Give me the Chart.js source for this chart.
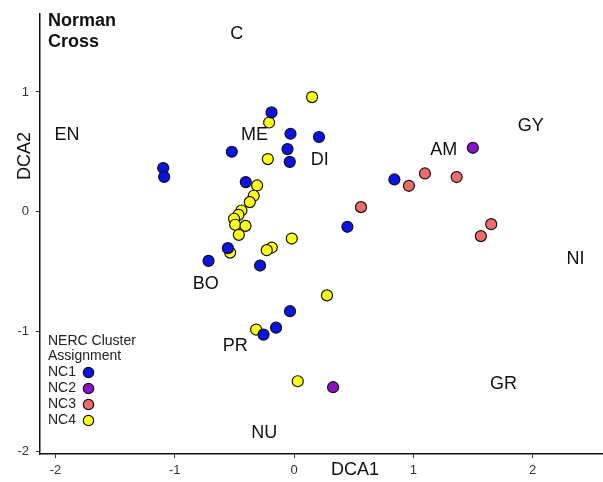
<!DOCTYPE html>
<html>
<head>
<meta charset="utf-8">
<script src="https://cdn.jsdelivr.net/npm/chart.js@4.4.1/dist/chart.umd.min.js"></script>
<style>
html,body{margin:0;padding:0;background:#fff;}
#c{display:block;}
</style>
</head>
<body>
<canvas id="c" width="603" height="482"></canvas>
<script>
// ---- data ----
const nc1X = [-0.189,-0.030,0.209,-0.522,-0.055,-0.036,-1.097,-1.089,-0.405,0.447,0.841,-0.555,-0.717,-0.285,-0.034,-0.151,-0.256];
const nc1Y = [0.829,0.651,0.624,0.501,0.523,0.417,0.365,0.292,0.248,-0.125,0.270,-0.303,-0.409,-0.448,-0.829,-0.966,-1.024];
const nc2X = [1.499,0.327];
const nc2Y = [0.534,-1.463];
const nc3X = [0.561,0.963,1.097,1.363,1.653,1.566];
const nc3Y = [0.039,0.217,0.320,0.290,-0.103,-0.203];
const nc4X = [0.151,-0.209,-0.220,-0.310,-0.338,-0.371,-0.441,-0.466,-0.503,-0.494,-0.407,-0.463,-0.019,-0.187,-0.229,-0.536,0.276,-0.318,0.031];
const nc4Y = [0.957,0.745,0.440,0.220,0.134,0.081,0.011,-0.025,-0.058,-0.108,-0.117,-0.192,-0.223,-0.298,-0.320,-0.340,-0.697,-0.982,-1.413];

const siteLabels = ['C','EN','ME','DI','AM','GY','NI','BO','PR','GR','NU'];
const siteX = [-0.480,-1.904,-0.331,0.215,1.254,1.985,2.359,-0.740,-0.494,1.756,-0.250];
const siteY = [1.486,0.643,0.643,0.428,0.518,0.718,-0.394,-0.601,-1.119,-1.436,-1.847];

const clusterNames = ['NC1','NC2','NC3','NC4'];
const clusterColors = ['#0a14e6','#8a12c6','#f06a6a','#ffff14'];
const xTickStep = 1, yTickStep = 1;
const xMin = -2.13, xMax = 2.59, yMin = -2.02, yMax = 1.65;

const titleLines = ['Norman','Cross'];
const legendTitle = ['NERC Cluster','Assignment'];
const xTitle = 'DCA1', yTitle = 'DCA2';

function pts(xs, ys){ return xs.map((x,i)=>({x:x,y:ys[i]})); }
const FONT = '"Liberation Sans", Arial, Helvetica, sans-serif';

const overlay = {
  id:'overlay',
  afterDraw(chart){
    const ctx = chart.ctx;
    const xs = chart.scales.x, ys = chart.scales.y;
    ctx.save();
    // site labels
    ctx.fillStyle = '#111';
    ctx.font = '18px ' + FONT;
    ctx.textAlign = 'center';
    ctx.textBaseline = 'middle';
    siteLabels.forEach((t,i)=>{
      ctx.fillText(t, xs.getPixelForValue(siteX[i]), ys.getPixelForValue(siteY[i]));
    });
    // title
    ctx.font = 'bold 18px ' + FONT;
    ctx.textAlign = 'left';
    ctx.fillText(titleLines[0], 48, 21);
    ctx.fillText(titleLines[1], 48, 42.5);
    // axis titles
    ctx.font = '18px ' + FONT;
    ctx.textAlign = 'center';
    ctx.fillText(xTitle, 355, 470);
    ctx.save();
    ctx.translate(25, 156);
    ctx.rotate(-Math.PI/2);
    ctx.fillText(yTitle, 0, 0);
    ctx.restore();
    // legend
    ctx.font = '14px ' + FONT;
    ctx.textAlign = 'left';
    ctx.fillStyle = '#222';
    ctx.fillText(legendTitle[0], 48, 341);
    ctx.fillText(legendTitle[1], 48, 356.5);
    clusterNames.forEach((n,i)=>{
      const y = 372.5 + i*16;
      ctx.fillStyle = '#222';
      ctx.fillText(n, 48, y);
      ctx.beginPath();
      ctx.arc(88.5, y, 5.2, 0, Math.PI*2);
      ctx.fillStyle = clusterColors[i];
      ctx.fill();
      ctx.lineWidth = 1.2;
      ctx.strokeStyle = '#111';
      ctx.stroke();
    });
    ctx.restore();
  }
};

const datasets = [
  {label:'NC1', data:pts(nc1X,nc1Y)},
  {label:'NC2', data:pts(nc2X,nc2Y)},
  {label:'NC3', data:pts(nc3X,nc3Y)},
  {label:'NC4', data:pts(nc4X,nc4Y)}
].map((d,i)=>Object.assign(d,{
  backgroundColor: clusterColors[i],
  borderColor:'#111',
  borderWidth:1.2,
  pointRadius:5.5,
  pointHoverRadius:5.5,
  clip:false
}));

new Chart(document.getElementById('c'), {
  type:'scatter',
  data:{datasets:datasets},
  options:{
    responsive:false,
    animation:false,
    events:[],
    layout:{autoPadding:false, padding:{top:14,right:0,left:0,bottom:0}},
    plugins:{legend:{display:false}, tooltip:{enabled:false}},
    scales:{
      x:{
        type:'linear', min:xMin, max:xMax,
        afterFit(s){ s.height = 28; s.paddingLeft = 0; s.paddingRight = 0; },
        ticks:{stepSize:xTickStep, includeBounds:false, color:'#333', font:{family:FONT,size:13}, padding:5, maxRotation:0},
        grid:{display:true, drawOnChartArea:false, drawTicks:true, tickLength:4, color:'#333', lineWidth:1},
        border:{display:true, color:'#111', width:1.5}
      },
      y:{
        type:'linear', min:yMin, max:yMax,
        afterFit(s){ s.width = 40; s.paddingTop = 0; s.paddingBottom = 0; },
        ticks:{stepSize:yTickStep, includeBounds:false, color:'#333', font:{family:FONT,size:13}, padding:7},
        grid:{display:true, drawOnChartArea:false, drawTicks:true, tickLength:4, color:'#333', lineWidth:1},
        border:{display:true, color:'#111', width:1.5}
      }
    }
  },
  plugins:[overlay]
});
</script>
</body>
</html>
